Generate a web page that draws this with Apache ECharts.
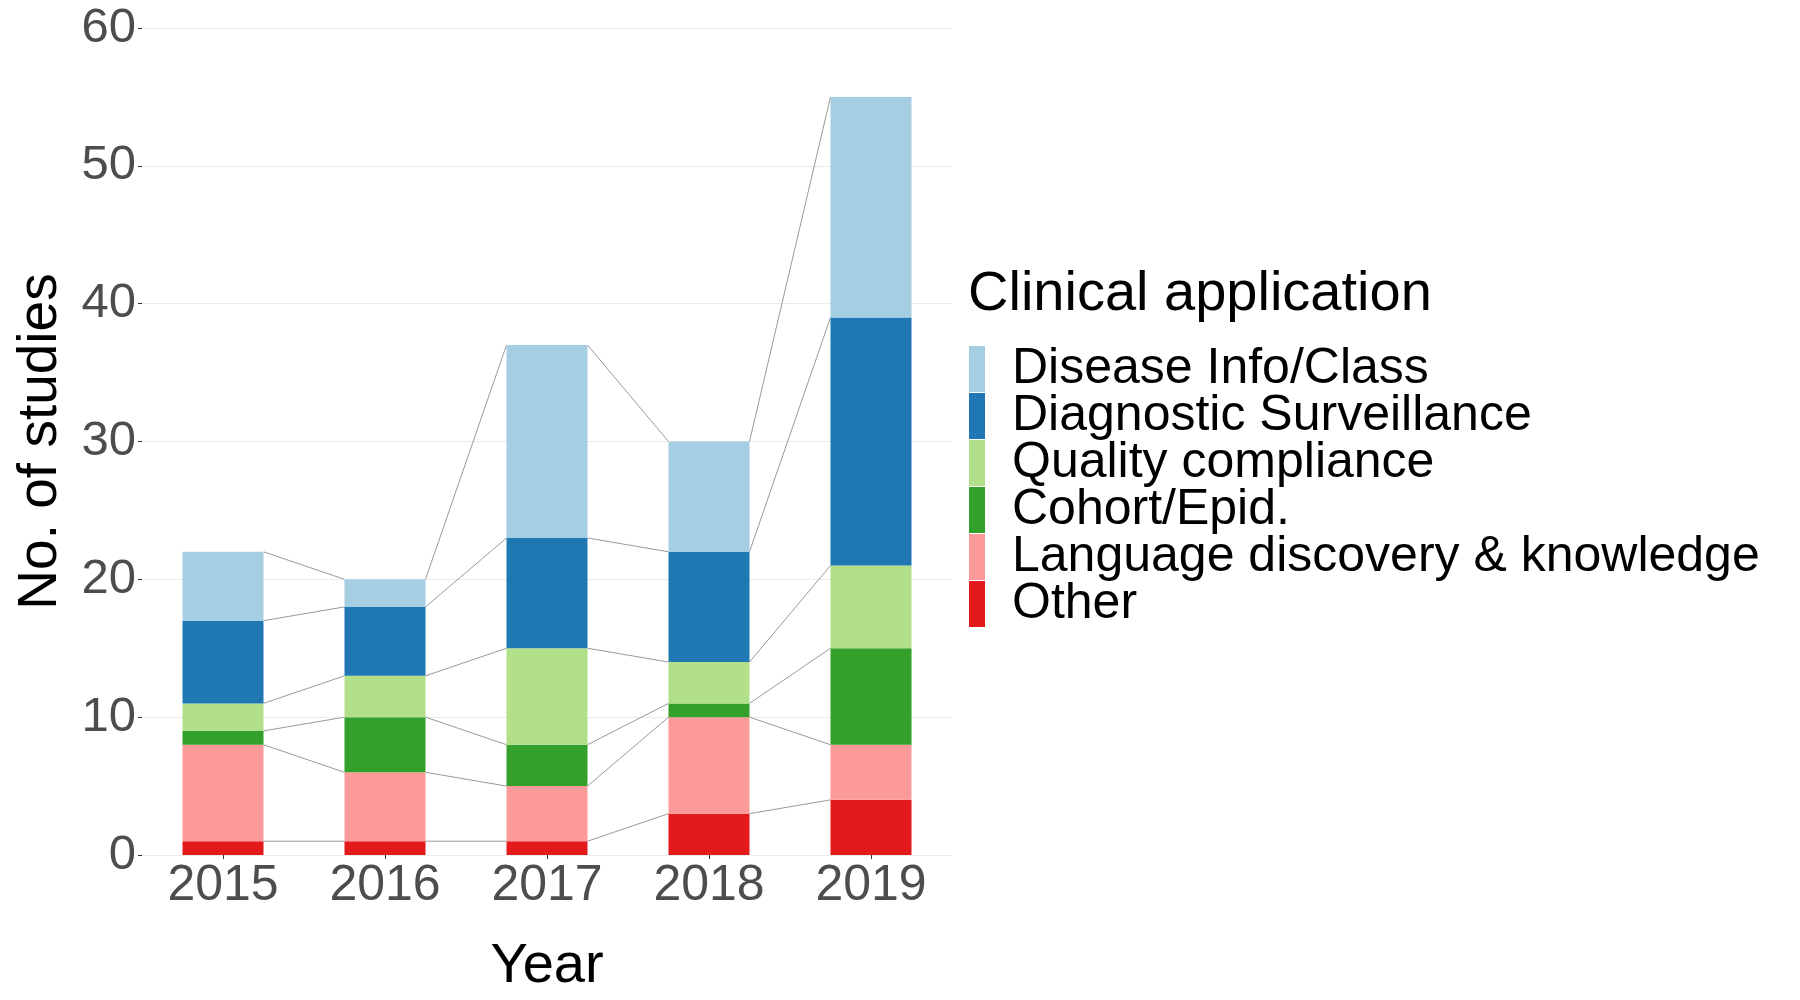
<!DOCTYPE html>
<html>
<head>
<meta charset="utf-8">
<script src="https://cdn.jsdelivr.net/npm/echarts@6/dist/echarts.min.js"></script>
<style>
  html, body { margin: 0; padding: 0; background: #fff; }
  #chart { width: 1800px; height: 1000px; }
</style>
</head>
<body>
<div id="chart"></div>
<script>
// 数据
const years = ['2015', '2016', '2017', '2018', '2019'];
const other = [1, 1, 1, 3, 4];
const language = [7, 5, 4, 7, 4];
const cohort = [1, 4, 3, 1, 7];
const quality = [2, 3, 7, 3, 6];
const diagnostic = [6, 5, 8, 8, 18];
const disease = [5, 2, 14, 8, 16];
const yTicks = [0, 10, 20, 30, 40, 50, 60];

// 从下往上堆叠
const groups = [
  { name: 'Other', values: other, color: '#E31A1C' },
  { name: 'Language discovery & knowledge', values: language, color: '#FB9A99' },
  { name: 'Cohort/Epid.', values: cohort, color: '#33A02C' },
  { name: 'Quality compliance', values: quality, color: '#B2DF8A' },
  { name: 'Diagnostic Surveillance', values: diagnostic, color: '#1F78B4' },
  { name: 'Disease Info/Class', values: disease, color: '#A6CEE3' }
];

const font = "'Liberation Sans', Arial, sans-serif";

// 连接线: 每层累计高度, 从上一根柱子右边到下一根柱子左边
let running = years.map(() => 0);
let linkData = [];
groups.forEach(function (g) {
  running = running.map((v, i) => v + g.values[i]);
  for (let i = 0; i < years.length - 1; i++) {
    linkData.push([i, running[i], running[i + 1]]);
  }
});

(function () {
  let mychart = echarts.init(document.getElementById('chart'));

  let series = groups.map(function (g) {
    return {
      name: g.name,
      type: 'bar',
      stack: 'total',
      barWidth: '50%',
      color: g.color,
      itemStyle: { color: g.color },
      data: g.values
    };
  });

  series.push({
    type: 'custom',
    silent: true,
    z: 1,
    renderItem: function (params, api) {
      let half = api.size([1, 0])[0] * 0.25;
      let p1 = api.coord([api.value(0), api.value(1)]);
      let p2 = api.coord([api.value(0) + 1, api.value(2)]);
      return {
        type: 'line',
        shape: { x1: p1[0] + half, y1: p1[1], x2: p2[0] - half, y2: p2[1] },
        style: { stroke: '#9a9a9a', lineWidth: 1 }
      };
    },
    encode: { x: 0, y: [1, 2] },
    data: linkData
  });

  let option = {
    animation: false,
    backgroundColor: '#fff',
    title: {
      text: 'Clinical application',
      left: 968,
      top: 267,
      padding: 0,
      textStyle: { fontFamily: font, fontSize: 56, fontWeight: 'normal', color: '#000' }
    },
    legend: {
      orient: 'vertical',
      left: 969,
      top: 344,
      padding: 0,
      itemWidth: 16,
      itemHeight: 46,
      itemGap: -3,
      icon: 'rect',
      data: groups.map(g => g.name).reverse(),
      textStyle: {
        fontFamily: font,
        fontSize: 50,
        color: '#000',
        padding: [0, 0, 0, 22]
      }
    },
    grid: {
      left: 142,
      right: 848,
      top: 28,
      bottom: 136,
      containLabel: false
    },
    xAxis: {
      type: 'category',
      data: years,
      boundaryGap: true,
      name: 'Year',
      nameLocation: 'middle',
      nameGap: 84,
      nameTextStyle: { fontFamily: font, fontSize: 56, color: '#000' },
      axisLine: { show: false },
      axisTick: { show: true, alignWithLabel: true, length: 4, lineStyle: { color: '#333' } },
      axisLabel: { fontFamily: font, fontSize: 50, color: '#4D4D4D', margin: 6 },
      splitLine: { show: false }
    },
    yAxis: {
      type: 'value',
      min: yTicks[0],
      max: yTicks[yTicks.length - 1],
      interval: 10,
      name: 'No. of studies',
      nameLocation: 'middle',
      nameGap: 74,
      nameTextStyle: { fontFamily: font, fontSize: 55, color: '#000' },
      axisLine: { show: false },
      axisTick: { show: true, length: 4, lineStyle: { color: '#333' } },
      axisLabel: { fontFamily: font, fontSize: 49, color: '#4D4D4D', margin: 6 },
      splitLine: { show: true, lineStyle: { color: '#EBEBEB', width: 1 } }
    },
    series: series
  };
  mychart.setOption(option);
  window.addEventListener('resize', function () {
    mychart.resize();
  });
})();
</script>
</body>
</html>
